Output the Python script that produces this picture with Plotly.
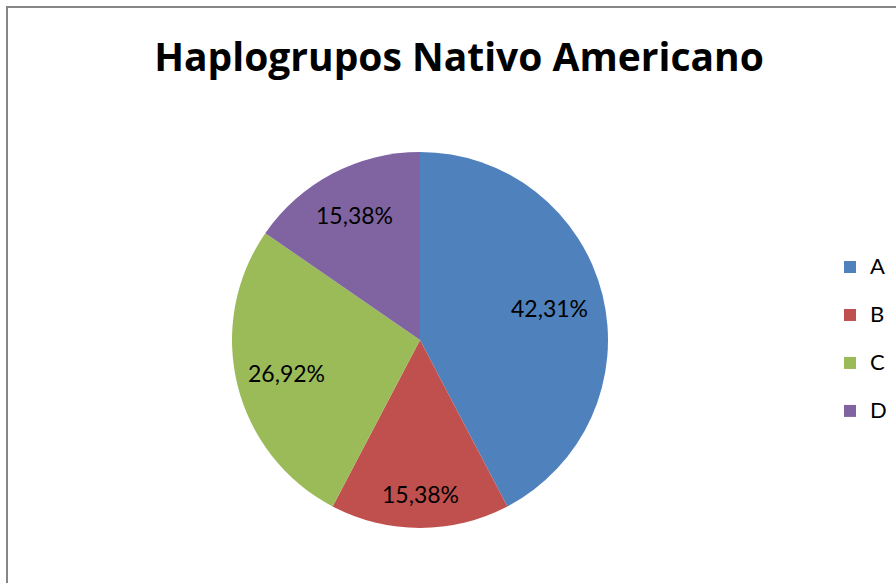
import math
import plotly.graph_objects as go

categories = ["A", "B", "C", "D"]
counts = [11, 4, 7, 4]
colors = ["#4F81BD", "#C0504D", "#9BBB59", "#8064A2"]
title_text = "Haplogrupos Nativo Americano"

W, H = 896, 583
FONT = "Lato"

# pie placement (pixels)
CX, CY, R = 420, 340, 188
# radial position of each data label, as a fraction of the radius (style)
label_radius = [0.71, 0.82, 0.73, 0.75]

legend_labels = [
    f"<span style='font-size:22px;baseline-shift:6px'>{c}</span>" for c in categories
]

fig = go.Figure(
    go.Pie(
        labels=legend_labels,
        values=counts,
        sort=False,
        direction="clockwise",
        rotation=0,
        marker=dict(colors=colors, line=dict(width=0)),
        textinfo="none",
        domain=dict(x=[(CX - R) / W, (CX + R) / W], y=[(H - CY - R) / H, (H - CY + R) / H]),
        hoverinfo="label+percent",
    )
)

# data labels at the middle angle of each slice
total = sum(counts)
cum = 0
annotations = []
for v, rf in zip(counts, label_radius):
    mid = (cum + v / 2) / total * 2 * math.pi
    cum += v
    px = CX + rf * R * math.sin(mid)
    py = CY - rf * R * math.cos(mid)
    pct = f"{100 * v / total:.2f}".replace(".", ",") + "%"
    annotations.append(
        dict(
            x=px / W,
            y=1 - py / H,
            xref="paper",
            yref="paper",
            text=pct,
            showarrow=False,
            xanchor="center",
            yanchor="middle",
            font=dict(family=FONT, size=23, color="black"),
        )
    )

fig.update_layout(
    width=W,
    height=H,
    margin=dict(l=0, r=0, t=0, b=0),
    paper_bgcolor="white",
    plot_bgcolor="white",
    separators=",.",
    font=dict(family=FONT, color="black"),
    title=dict(
        text="<b>" + title_text + "</b>",
        x=459 / W,
        xanchor="center",
        y=1 - 57 / H,
        yanchor="middle",
        font=dict(family="Open Sans", size=39, color="black"),
    ),
    annotations=annotations,
    showlegend=True,
    legend=dict(
        x=830 / W,
        xanchor="left",
        y=1 - 238 / H,
        yanchor="top",
        font=dict(family=FONT, size=34.6, color="black"),
        bgcolor="rgba(0,0,0,0)",
        borderwidth=0,
    ),
    shapes=[
        dict(
            type="rect",
            xref="paper",
            yref="paper",
            x0=7 / W,
            x1=1.05,
            y0=-0.05,
            y1=1 - 7 / H,
            line=dict(color="#868686", width=2),
            fillcolor="rgba(0,0,0,0)",
            layer="below",
        )
    ],
)

fig.write_html("out.html")
